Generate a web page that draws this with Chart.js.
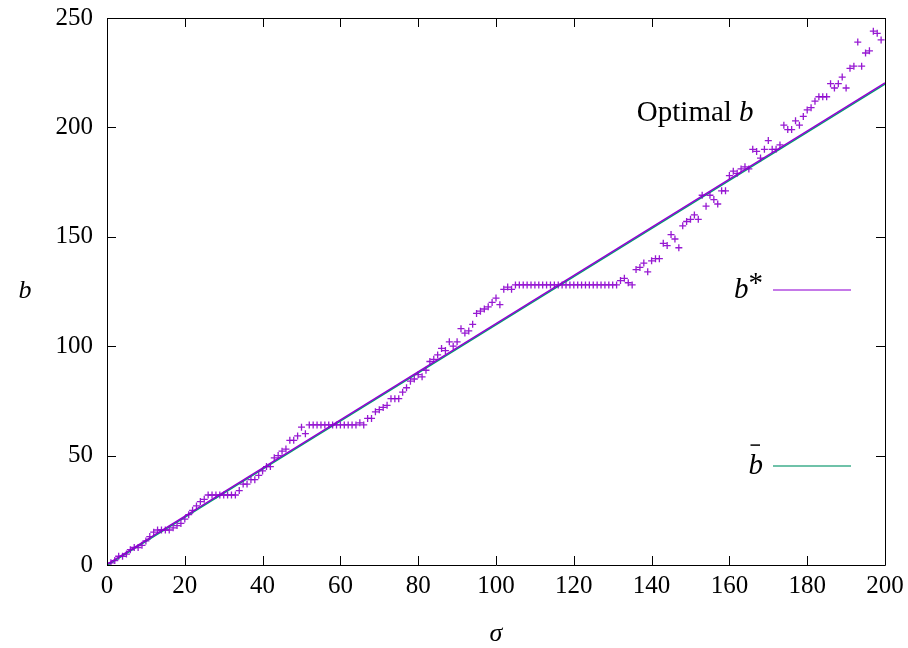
<!DOCTYPE html>
<html>
<head>
<meta charset="utf-8">
<script src="https://cdn.jsdelivr.net/npm/chart.js@4/dist/chart.umd.min.js"></script>
<style>
  body { margin: 0; background: #fff; }
  #wrap { width: 908px; height: 648px; }
</style>
</head>
<body>
<div id="wrap"><canvas id="chart"></canvas></div>
<script>
// sigma values of the sampled points
const sigma = [
    1, 2, 3, 4, 5, 6, 7, 8, 9, 10,
    11, 12, 13, 14, 15, 16, 17, 18, 19, 20,
    21, 22, 23, 24, 25, 26, 27, 28, 29, 30,
    31, 32, 33, 34, 35, 36, 37, 38, 39, 40,
    41, 42, 43, 44, 45, 46, 47, 48, 49, 50,
    51, 52, 53, 54, 55, 56, 57, 58, 59, 60,
    61, 62, 63, 64, 65, 66, 67, 68, 69, 70,
    71, 72, 73, 74, 75, 76, 77, 78, 79, 80,
    81, 82, 83, 84, 85, 86, 87, 88, 89, 90,
    91, 92, 93, 94, 95, 96, 97, 98, 99, 100,
    101, 102, 103, 104, 105, 106, 107, 108, 109, 110,
    111, 112, 113, 114, 115, 116, 117, 118, 119, 120,
    121, 122, 123, 124, 125, 126, 127, 128, 129, 130,
    131, 132, 133, 134, 135, 136, 137, 138, 139, 140,
    141, 142, 143, 144, 145, 146, 147, 148, 149, 150,
    151, 152, 153, 154, 155, 156, 157, 158, 159, 160,
    161, 162, 163, 164, 165, 166, 167, 168, 169, 170,
    171, 172, 173, 174, 175, 176, 177, 178, 179, 180,
    181, 182, 183, 184, 185, 186, 187, 188, 189, 190,
    191, 192, 193, 194, 195, 196, 197, 198, 199
];

const bStar = [
    1, 2, 4, 4, 5, 7, 8, 8, 9, 11,
    13, 15, 16, 16, 16, 16, 17, 18, 19, 21,
    23, 25, 27, 29, 30, 32, 32, 32, 32, 32,
    32, 32, 32, 34, 37, 37, 39, 39, 41, 43,
    45, 45, 49, 50, 52, 53, 57, 57, 59, 63,
    60, 64, 64, 64, 64, 64, 64, 64, 64, 64,
    64, 64, 64, 64, 65, 64, 67, 67, 70, 71,
    72, 73, 76, 76, 76, 79, 81, 84, 85, 87,
    86, 89, 93, 94, 96, 99, 98, 102, 100, 102,
    108, 106, 107, 110, 115, 116, 117, 118, 120, 122,
    119, 126, 127, 126, 128, 128, 128, 128, 128, 128,
    128, 128, 128, 128, 128, 128, 128, 128, 128, 128,
    128, 128, 128, 128, 128, 128, 128, 128, 128, 128,
    128, 130, 131, 129, 128, 135, 136, 138, 134, 139,
    140, 140, 147, 146, 151, 149, 145, 155, 157, 158,
    160, 158, 169, 164, 169, 167, 165, 171, 171, 178,
    180, 179, 181, 182, 181, 190, 189, 186, 190, 194,
    190, 190, 192, 201, 199, 199, 203, 201, 205, 208,
    209, 212, 214, 214, 214, 220, 218, 220, 223, 218,
    227, 228, 239, 228, 234, 235, 244, 243, 240
];

// optimal b lines (end points); the two curves nearly coincide
const lineSigma = [0, 200];
const lineBStar = [0.3, 220.3];
const lineBBar = [-0.2, 219.8];

const xTicks = [0, 20, 40, 60, 80, 100, 120, 140, 160, 180, 200];
const yTicks = [0, 50, 100, 150, 200, 250];

const colors = {
    points: 'rgba(140, 0, 205, 0.9)',
    bStar: '#9400d3',
    bBar: '#009e73',
    keyBStar: '#b24ce0',
    keyBBar: '#3fae8c',
    text: '#000'
};
const serif = '"Liberation Serif", "DejaVu Serif", serif';

const toXY = (xs, ys) => xs.map((x, i) => ({ x: x, y: ys[i] }));

// gnuplot style frame: border on all sides, ticks pointing inward, labels
const framePlugin = {
    id: 'frame',
    afterDraw(chart) {
        const ctx = chart.ctx;
        const a = chart.chartArea;
        const xs = chart.scales.x;
        const ys = chart.scales.y;
        ctx.save();
        ctx.strokeStyle = '#000';
        ctx.lineWidth = 1;
        ctx.beginPath();
        ctx.rect(a.left + 0.5, a.top + 0.5, a.right - a.left, a.bottom - a.top);
        xTicks.forEach(v => {
            const px = Math.round(xs.getPixelForValue(v)) + 0.5;
            ctx.moveTo(px, a.bottom); ctx.lineTo(px, a.bottom - 9);
            ctx.moveTo(px, a.top); ctx.lineTo(px, a.top + 9);
        });
        yTicks.forEach(v => {
            const py = Math.round(ys.getPixelForValue(v)) + 0.5;
            ctx.moveTo(a.left, py); ctx.lineTo(a.left + 9, py);
            ctx.moveTo(a.right, py); ctx.lineTo(a.right - 9, py);
        });
        ctx.stroke();

        // axis titles
        ctx.fillStyle = colors.text;
        ctx.font = 'italic 26px ' + serif;
        ctx.textAlign = 'center';
        ctx.textBaseline = 'middle';
        ctx.fillText('\u03c3', (a.left + a.right) / 2, 634);
        ctx.fillText('b', 25, (a.top + a.bottom) / 2);

        // "Optimal b" key title
        ctx.textAlign = 'left';
        ctx.font = '29px ' + serif;
        const optX = xs.getPixelForValue(136.2);
        const optY = ys.getPixelForValue(206.6);
        ctx.fillText('Optimal ', optX, optY);
        const w = ctx.measureText('Optimal ').width;
        ctx.font = 'italic 29px ' + serif;
        ctx.fillText('b', optX + w, optY);

        // key entries
        const keyX1 = 773, keyX2 = 851;
        const entries = [
            { y: ys.getPixelForValue(125.7), color: colors.keyBStar, star: true },
            { y: ys.getPixelForValue(45.2), color: colors.keyBBar, star: false }
        ];
        entries.forEach(e => {
            ctx.strokeStyle = e.color;
            ctx.lineWidth = 1.5;
            ctx.beginPath();
            ctx.moveTo(keyX1, e.y); ctx.lineTo(keyX2, e.y);
            ctx.stroke();
            ctx.textAlign = 'right';
            ctx.font = 'italic 29px ' + serif;
            if (e.star) {
                ctx.font = '29px ' + serif;
                const sw = ctx.measureText('*').width;
                ctx.fillText('*', 763, e.y - 6);
                ctx.font = 'italic 29px ' + serif;
                ctx.fillText('b', 763 - sw, e.y);
            } else {
                ctx.fillText('b', 763, e.y);
                const bw = ctx.measureText('b').width;
                ctx.lineWidth = 1.5;
                ctx.strokeStyle = '#000';
                ctx.beginPath();
                ctx.moveTo(763 - bw + 2, e.y - 21); ctx.lineTo(763 - 3, e.y - 21);
                ctx.stroke();
            }
        });
        ctx.restore();
    }
};

new Chart(document.getElementById('chart'), {
    type: 'scatter',
    data: {
        datasets: [
            {
                label: 'points',
                data: toXY(sigma, bStar),
                pointStyle: 'cross',
                pointRadius: 3.5,
                pointBorderWidth: 1.3,
                borderColor: colors.points,
                backgroundColor: colors.points,
                showLine: false
            },
            {
                label: 'b*',
                data: toXY(lineSigma, lineBStar),
                showLine: true,
                borderColor: colors.bStar,
                borderWidth: 1.5,
                pointRadius: 0
            },
            {
                label: 'b\u0304',
                data: toXY(lineSigma, lineBBar),
                showLine: true,
                borderColor: colors.bBar,
                borderWidth: 1.5,
                pointRadius: 0
            }
        ]
    },
    options: {
        responsive: true,
        maintainAspectRatio: false,
        animation: false,
        layout: { padding: { left: 0, top: 18, right: 23, bottom: 0 } },
        plugins: {
            legend: { display: false },
            tooltip: { enabled: false }
        },
        scales: {
            x: {
                type: 'linear',
                min: 0,
                max: 200,
                afterFit: s => { s.height = 83; s.paddingLeft = 0; s.paddingRight = 0; },
                afterBuildTicks: s => { s.ticks = xTicks.map(v => ({ value: v })); },
                grid: { display: false, drawTicks: false },
                border: { display: false },
                ticks: {
                    color: colors.text,
                    padding: 6,
                    maxRotation: 0,
                    font: { family: serif, size: 25 }
                }
            },
            y: {
                type: 'linear',
                min: 0,
                max: 250,
                afterFit: s => { s.width = 107; s.paddingTop = 0; s.paddingBottom = 0; },
                afterBuildTicks: s => { s.ticks = yTicks.map(v => ({ value: v })); },
                grid: { display: false, drawTicks: false },
                border: { display: false },
                ticks: {
                    color: colors.text,
                    padding: 14,
                    font: { family: serif, size: 25 }
                }
            }
        }
    },
    plugins: [framePlugin]
});
</script>
</body>
</html>
